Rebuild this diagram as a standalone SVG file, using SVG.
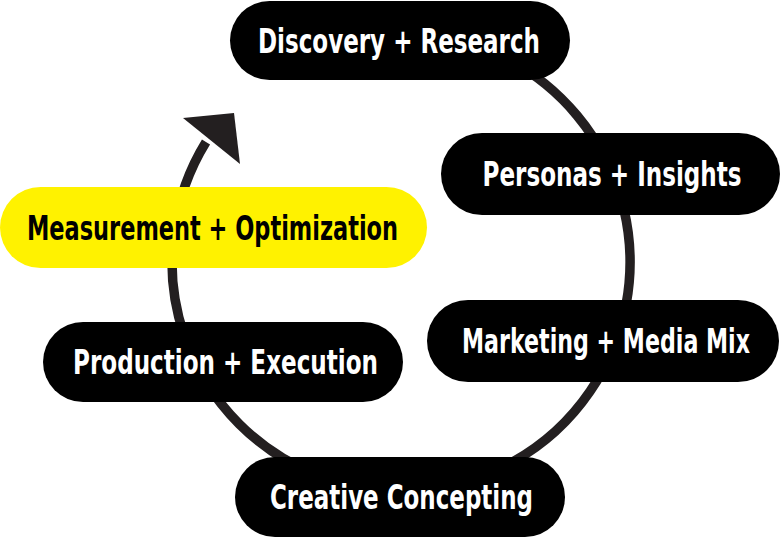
<svg xmlns="http://www.w3.org/2000/svg" width="781" height="538" viewBox="0 0 781 538">
<style>
.pill{fill:#000000}
.hl{fill:#FFF200}
.lbl{font-family:"Liberation Sans Narrow","DejaVu Sans Condensed","Liberation Sans",sans-serif;font-weight:bold;font-stretch:condensed;font-size:33px;text-anchor:middle;fill:#FFFFFF}
.dark{fill:#000000}
.ring{fill:none;stroke:#231F20;stroke-width:9.5}
</style>
<rect width="781" height="538" fill="#FFFFFF"/>
<g id="connectors">
<path class="ring" d="M 401 33 A 229 229 0 1 1 206 142"/>
<polygon points="183,118 234,113 240,164" fill="#231F20"/>
</g>
<g id="discovery">
<rect class="pill" x="230" y="1" width="340" height="79" rx="39.5"/>
<text class="lbl" x="399" y="53" textLength="282" lengthAdjust="spacingAndGlyphs">Discovery + Research</text>
</g>
<g id="personas">
<rect class="pill" x="441" y="133" width="339" height="82" rx="41"/>
<text class="lbl" x="612" y="186" textLength="259" lengthAdjust="spacingAndGlyphs">Personas + Insights</text>
</g>
<g id="measurement">
<rect class="hl" x="0" y="187" width="427" height="81" rx="40.5"/>
<text class="lbl dark" x="212.5" y="240" textLength="371" lengthAdjust="spacingAndGlyphs">Measurement + Optimization</text>
</g>
<g id="marketing">
<rect class="pill" x="427" y="300" width="352" height="82" rx="41"/>
<text class="lbl" x="606" y="353" textLength="288" lengthAdjust="spacingAndGlyphs">Marketing + Media Mix</text>
</g>
<g id="production">
<rect class="pill" x="43" y="322" width="360" height="80" rx="40"/>
<text class="lbl" x="225.5" y="374" textLength="305" lengthAdjust="spacingAndGlyphs">Production + Execution</text>
</g>
<g id="creative">
<rect class="pill" x="235" y="457" width="330" height="80" rx="40"/>
<text class="lbl" x="401.5" y="509" textLength="263" lengthAdjust="spacingAndGlyphs">Creative Concepting</text>
</g>
</svg>
